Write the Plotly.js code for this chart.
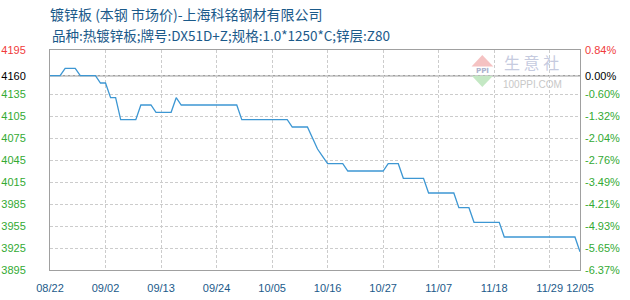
<!DOCTYPE html>
<html>
<head>
<meta charset="utf-8">
<script src="https://cdn.plot.ly/plotly-3.0.1.min.js"></script>
<style>html,body{margin:0;padding:0;background:#fff;}#chart{width:630px;height:300px;}</style>
</head>
<body>
<div id="chart"></div>
<script>
// ---- data ----
const dates = ['2024-08-22','2024-08-24','2024-08-25','2024-08-27','2024-08-28','2024-08-31','2024-09-01','2024-09-02','2024-09-03','2024-09-04','2024-09-05','2024-09-08','2024-09-09','2024-09-11','2024-09-12','2024-09-15','2024-09-16','2024-09-17','2024-09-28','2024-09-29','2024-10-08','2024-10-09','2024-10-12','2024-10-13','2024-10-14','2024-10-15','2024-10-16','2024-10-19','2024-10-20','2024-10-27','2024-10-28','2024-10-30','2024-10-31','2024-11-04','2024-11-05','2024-11-10','2024-11-11','2024-11-13','2024-11-14','2024-11-19','2024-11-20','2024-12-04','2024-12-05'];
const prices = [4160,4160,4170,4170,4160,4160,4150,4150,4130,4130,4100,4100,4120,4120,4110,4110,4130,4120,4120,4100,4100,4090,4090,4075,4060,4050,4040,4040,4030,4030,4040,4040,4020,4020,4000,4000,3980,3980,3960,3960,3940,3940,3920];

const baseValue = 4160;
const yTickVals = [4195,4160,4135,4105,4075,4045,4015,3985,3955,3925,3895];
const yTickText = ['4195','4160','4135','4105','4075','4045','4015','3985','3955','3925','3895'];
const pctTickText = ['0.84%','0.00%','-0.60%','-1.32%','-2.04%','-2.76%','-3.49%','-4.21%','-4.93%','-5.65%','-6.37%'];
const xTickVals = ['2024-08-22','2024-09-02','2024-09-13','2024-09-24','2024-10-05','2024-10-16','2024-10-27','2024-11-07','2024-11-18','2024-11-29','2024-12-05'];
const xTickText = ['08/22','09/02','09/13','09/24','10/05','10/16','10/27','11/07','11/18','11/29','12/05'];

const titleText = '镀锌板 (本钢 市场价)-上海科铭钢材有限公司';
const subtitleText = '品种:热镀锌板;牌号:DX51D+Z;规格:1.0*1250*C;锌层:Z80';

// colours for tick labels relative to base
function colourFor(v){ return v > baseValue ? '#f03c3c' : (v === baseValue ? '#000000' : '#33aa33'); }
const leftText = yTickVals.map((v,i)=>'<span style="color:'+colourFor(v)+'">'+yTickText[i]+'</span>');
const rightText = yTickVals.map((v,i)=>'<span style="color:'+colourFor(v)+'">'+pctTickText[i]+'</span>');

const W = 630, H = 300, L = 50, R = 50, T = 50, B = 30;
const pw = W - L - R, ph = H - T - B;
const px = x => (x - L) / pw;
const py = y => (H - B - y) / ph;

const tickFont = {family: 'Liberation Sans, Arial, sans-serif', size: 11};

const trace = {
  x: dates, y: prices, type: 'scatter', mode: 'lines',
  line: {color: '#3d97d3', width: 1.3, shape: 'linear'},
  hoverinfo: 'x+y', showlegend: false
};
const trace2 = {x: [dates[0]], y: [prices[0]], yaxis: 'y2', mode: 'markers', marker: {opacity: 0}, showlegend: false, hoverinfo: 'skip'};

const layout = {
  width: W, height: H,
  margin: {l: L, r: R, t: T, b: B, pad: 0},
  paper_bgcolor: '#ffffff', plot_bgcolor: '#ffffff',
  showlegend: false,
  title: {
    text: titleText,
    font: {family: 'Noto Sans CJK SC, sans-serif', size: 14, color: '#1b5a8a'},
    xref: 'paper', x: 0, xanchor: 'left',
    yref: 'container', y: 1 - 15/H, yanchor: 'middle', pad: {l: 0}
  },
  xaxis: {
    type: 'date', range: [xTickVals[0], xTickVals[xTickVals.length-1]],
    tickmode: 'array', tickvals: xTickVals, ticktext: xTickText,
    tickfont: Object.assign({}, tickFont, {color: '#1b5a8a'}),
    ticks: '', ticklabelstandoff: 8,
    showgrid: true, gridcolor: '#cccccc', griddash: '3px,2px', gridwidth: 1,
    showline: true, mirror: true, linecolor: '#a0a0a0', linewidth: 1,
    zeroline: false, fixedrange: true
  },
  yaxis: {
    range: [3895, 4195],
    tickmode: 'array', tickvals: yTickVals, ticktext: leftText,
    tickfont: tickFont, ticks: '', ticklabelstandoff: 21,
    showgrid: true, gridcolor: '#cccccc', griddash: '3px,2px', gridwidth: 1,
    showline: true, mirror: true, linecolor: '#a0a0a0', linewidth: 1,
    zeroline: false, fixedrange: true
  },
  yaxis2: {
    overlaying: 'y', side: 'right', range: [3895, 4195],
    tickmode: 'array', tickvals: yTickVals, ticktext: rightText,
    tickfont: tickFont, ticks: '', ticklabelstandoff: 4,
    showgrid: false, showline: false, zeroline: false, fixedrange: true
  },
  shapes: [
    {type: 'line', xref: 'paper', x0: 0, x1: 1, yref: 'y', y0: baseValue, y1: baseValue,
     line: {color: '#a0a0a0', width: 1.5}, layer: 'below'},
    // watermark logo
    {type: 'path', xref: 'paper', yref: 'paper',
     path: 'M '+px(482.3)+' '+py(55)+' L '+px(471.5)+' '+py(66.5)+' L '+px(493.3)+' '+py(66.5)+' Z',
     fillcolor: '#f5c2c2', line: {width: 0}, layer: 'below'},
    {type: 'path', xref: 'paper', yref: 'paper',
     path: 'M '+px(471.5)+' '+py(75.5)+' L '+px(493.3)+' '+py(75.5)+' L '+px(482.3)+' '+py(87)+' Z',
     fillcolor: '#c4e8c4', line: {width: 0}, layer: 'below'}
  ],
  annotations: [
    {text: subtitleText, xref: 'paper', x: 0, xanchor: 'left', yref: 'paper', y: py(35), yanchor: 'middle',
     showarrow: false, font: {family: 'Noto Sans CJK SC, sans-serif', size: 13.5, color: '#1b5a8a'}},
    {text: '<b>PPI</b>', xref: 'paper', x: px(482.3), xanchor: 'center', yref: 'paper', y: py(71), yanchor: 'middle',
     showarrow: false, font: {family: 'DejaVu Sans, sans-serif', size: 7, color: '#a8b0cc'}},
    {text: '生 意 社', xref: 'paper', x: px(531), xanchor: 'center', yref: 'paper', y: py(76), yanchor: 'bottom',
     showarrow: false, font: {family: 'Noto Sans CJK SC, sans-serif', size: 16, color: '#c6cbdf'}},
    {text: '100PPI.COM', xref: 'paper', x: px(532), xanchor: 'center', yref: 'paper', y: py(76.5), yanchor: 'top',
     showarrow: false, font: {family: 'Liberation Sans, Arial, sans-serif', size: 10, color: '#c8c8c8'}}
  ]
};

Plotly.newPlot('chart', [trace, trace2], layout, {displayModeBar: false, staticPlot: true});
</script>
</body>
</html>
